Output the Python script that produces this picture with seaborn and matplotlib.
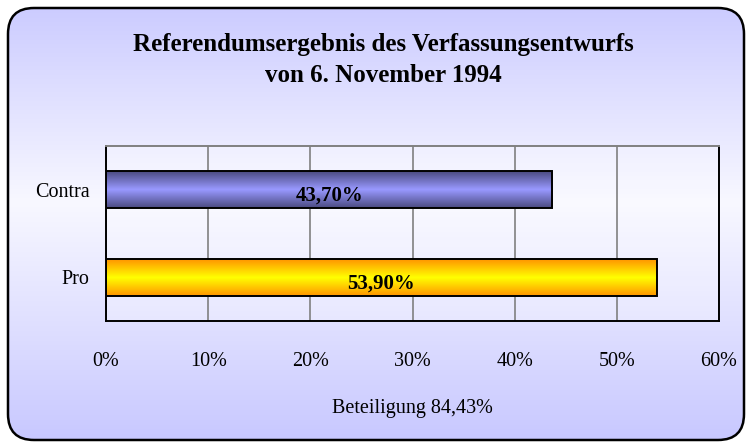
import numpy as np
import matplotlib
matplotlib.use("Agg")
import matplotlib.pyplot as plt
import seaborn as sns
from matplotlib.patches import FancyBboxPatch
from matplotlib.colors import LinearSegmentedColormap

# ── Data ──────────────────────────────────────────────────────────────────────
categories = ["Contra", "Pro"]
values = [43.70, 53.90]
value_labels = ["43,70%", "53,90%"]
x_ticks = [0, 10, 20, 30, 40, 50, 60]
x_tick_labels = ["0%", "10%", "20%", "30%", "40%", "50%", "60%"]
title_lines = ["Referendumsergebnis des Verfassungsentwurfs", "von 6. November 1994"]
footer = "Beteiligung 84,43%"

bar_edges = {"Contra": "#4a4a80", "Pro": "#ff9400"}
bar_centres = {"Contra": "#9999ff", "Pro": "#ffff00"}

sns.set_style("white")
plt.rcParams["font.family"] = ["Liberation Serif", "DejaVu Serif"]
plt.rcParams["text.color"] = "black"
plt.rcParams["xtick.color"] = "black"
plt.rcParams["ytick.color"] = "black"

fig = plt.figure(figsize=(7.52, 4.48), dpi=100)

# ── Background frame with vertical gradient ───────────────────────────────────
bg = fig.add_axes([0, 0, 1, 1], zorder=0)
bg.set_xlim(0, 752)
bg.set_ylim(448, 0)
bg.axis("off")
bg_cmap = LinearSegmentedColormap.from_list(
    "bg", [(0.0, "#ccccff"), (0.45, "#f8f8ff"), (1.0, "#c8c8ff")]
)
grad = np.linspace(0, 1, 256).reshape(-1, 1)
frame = FancyBboxPatch((8, 8), 736, 432, boxstyle="round,pad=0,rounding_size=26",
                       facecolor="none", edgecolor="black", linewidth=1.8, zorder=3)
bg.add_patch(frame)
im = bg.imshow(grad, cmap=bg_cmap, extent=(8, 744, 440, 8), aspect="auto", zorder=1)
im.set_clip_path(frame)

# ── Main chart ────────────────────────────────────────────────────────────────
ax = fig.add_axes([106 / 752, 1 - 321 / 448, 613 / 752, 175 / 448], zorder=1)
ax.set_facecolor("none")

sns.barplot(x=values, y=categories, orient="h", width=0.42,
            edgecolor="black", linewidth=1.4, ax=ax, zorder=3)
bars = list(ax.patches)

# gradient fill for each bar
for patch, cat in zip(bars, categories):
    bb = patch.get_bbox()
    patch.set_facecolor("none")
    cmap = LinearSegmentedColormap.from_list(
        cat, [bar_edges[cat], bar_centres[cat], bar_edges[cat]]
    )
    g = ax.imshow(grad, cmap=cmap, extent=(bb.x0, bb.x1, bb.y1, bb.y0),
                  aspect="auto", zorder=2)
    g.set_clip_path(patch)

# slightly lighter plot area
ax.add_patch(plt.Rectangle((0, 0), 1, 1, transform=ax.transAxes,
                           facecolor="white", alpha=0.25, zorder=0))

ax.set_xlim(0, 60)
ax.set_ylim(1.5, -0.5)

for i, (v, lab) in enumerate(zip(values, value_labels)):
    ax.text(v / 2, i + 0.07, lab, ha="center", va="center",
            fontsize=15, fontweight="bold", color="black", zorder=5)

ax.set_xticks(x_ticks)
ax.set_xticklabels(x_tick_labels, fontsize=14.5)
ax.tick_params(axis="x", length=0, pad=22)
ax.tick_params(axis="y", length=0, pad=12, labelsize=14.5)
ax.set_xlabel("")
ax.set_ylabel("")

ax.grid(axis="x", color="#808080", linewidth=1.2, zorder=1)
ax.set_axisbelow(True)
for side in ["left", "bottom", "right"]:
    ax.spines[side].set_visible(True)
    ax.spines[side].set_color("black")
    ax.spines[side].set_linewidth(1.4)
ax.spines["top"].set_visible(True)
ax.spines["top"].set_color("#808080")
ax.spines["top"].set_linewidth(1.4)

# ── Texts ─────────────────────────────────────────────────────────────────────
fig.text(383 / 752, 1 - 45 / 448, title_lines[0], ha="center", va="center",
         fontsize=18, fontweight="bold")
fig.text(383 / 752, 1 - 75 / 448, title_lines[1], ha="center", va="center",
         fontsize=18, fontweight="bold")
fig.text(412 / 752, 1 - 408 / 448, footer, ha="center", va="center", fontsize=14.5)

fig.savefig("out.png", dpi=100)
